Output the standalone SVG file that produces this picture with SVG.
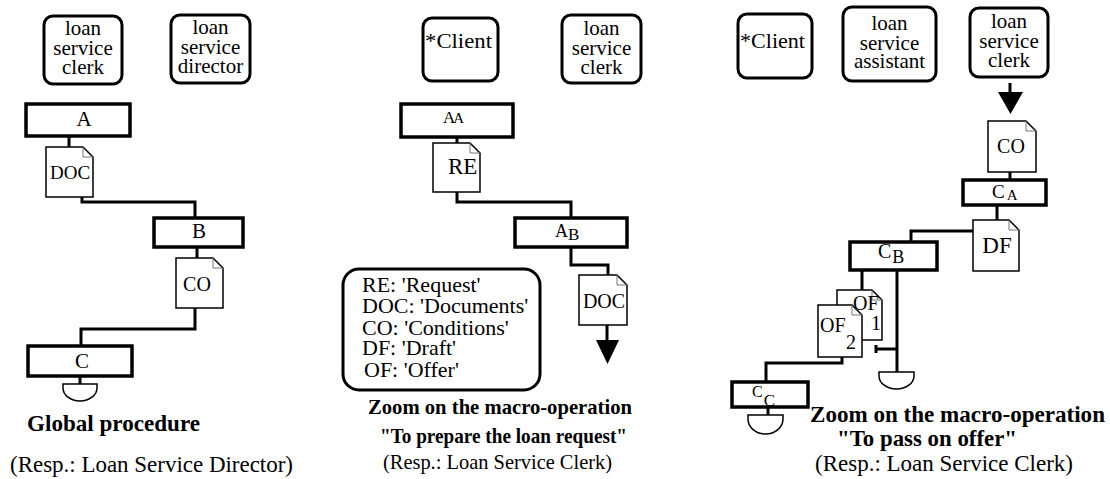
<svg xmlns="http://www.w3.org/2000/svg" width="1110" height="479" viewBox="0 0 1110 479">
  <style>
    text { font-family: 'Liberation Serif', 'Times New Roman', serif; fill: #000; }
    .actor { fill: #fff; stroke: #000; stroke-width: 3; }
    .proc { fill: #fff; stroke: #000; stroke-width: 3.5; }
    .doc { fill: #fff; stroke: #000; stroke-width: 1.5; }
    .fold { fill: none; stroke: #777; stroke-width: 1; }
    .end { fill: #fff; stroke: #000; stroke-width: 1.5; }
    .link { fill: none; stroke: #000; stroke-width: 3; }
    .tip { fill: #000; stroke: none; }
    .legend { fill: #fff; stroke: #000; stroke-width: 3; }
    .a { font-size: 21px; text-anchor: middle; }
    .cap { font-weight: bold; }
  </style>

  <!-- ===== Global procedure ===== -->
  <g id="p1-actor-clerk">
    <rect class="actor" x="44" y="16" width="78" height="68" rx="9"/>
    <text class="a" x="83" y="35">loan</text>
    <text class="a" x="83" y="55">service</text>
    <text class="a" x="83" y="74">clerk</text>
  </g>
  <g id="p1-actor-director">
    <rect class="actor" x="171" y="15" width="79" height="68" rx="9"/>
    <text class="a" x="210.5" y="34">loan</text>
    <text class="a" x="210.5" y="54">service</text>
    <text class="a" x="210.5" y="73">director</text>
  </g>
  <g id="p1-op-A">
    <rect class="proc" x="26" y="104" width="104" height="32"/>
    <text x="84" y="126" font-size="21" text-anchor="middle">A</text>
  </g>
  <g id="p1-doc-DOC">
    <path class="doc" d="M46 147 H83 L93 157 V197 H46 Z"/>
    <path class="fold" d="M83 147 V157 H93"/>
    <text x="70" y="179" font-size="19" text-anchor="middle">DOC</text>
  </g>
  <g id="p1-op-B">
    <rect class="proc" x="154" y="218" width="89" height="29"/>
    <text x="199" y="238" font-size="21" text-anchor="middle">B</text>
  </g>
  <g id="p1-doc-CO">
    <path class="doc" d="M176 258 H213 L223 268 V308 H176 Z"/>
    <path class="fold" d="M213 258 V268 H223"/>
    <text x="197" y="291" font-size="20" text-anchor="middle">CO</text>
  </g>
  <g id="p1-op-C">
    <rect class="proc" x="28" y="346" width="104" height="30"/>
    <text x="82" y="368" font-size="21" text-anchor="middle">C</text>
  </g>
  <g id="p1-end">
    <path class="end" d="M63 384 H97 V388 A17 13 0 0 1 63 388 Z"/>
  </g>
  <g id="p1-caption">
    <text class="cap" x="27" y="431" font-size="23" textLength="173" lengthAdjust="spacingAndGlyphs">Global procedure</text>
    <text x="10" y="472" font-size="23" textLength="283" lengthAdjust="spacingAndGlyphs">(Resp.: Loan Service Director)</text>
  </g>

  <!-- ===== "To prepare the loan request" ===== -->
  <g id="p2-actor-client">
    <rect class="actor" x="423" y="18" width="75" height="63" rx="9"/>
    <text x="425" y="48" font-size="22" textLength="67" lengthAdjust="spacingAndGlyphs">*Client</text>
  </g>
  <g id="p2-actor-clerk">
    <rect class="actor" x="562" y="15" width="79" height="68" rx="9"/>
    <text class="a" x="601.5" y="35">loan</text>
    <text class="a" x="601.5" y="55">service</text>
    <text class="a" x="601.5" y="74">clerk</text>
  </g>
  <g id="p2-op-AA">
    <rect class="proc" x="401" y="104" width="112" height="33"/>
    <text x="443" y="123" font-size="17">A<tspan font-size="15" dx="-2">A</tspan></text>
  </g>
  <g id="p2-doc-RE">
    <path class="doc" d="M433 143 H470 L480 153 V192 H433 Z"/>
    <path class="fold" d="M470 143 V153 H480"/>
    <text x="448" y="174" font-size="23">RE</text>
  </g>
  <g id="p2-op-AB">
    <rect class="proc" x="515" y="218" width="112" height="29"/>
    <text x="555" y="237" font-size="18">A<tspan font-size="17" dy="3">B</tspan></text>
  </g>
  <g id="p2-doc-DOC">
    <path class="doc" d="M579 275 H617 L627 285 V325 H579 Z"/>
    <path class="fold" d="M617 275 V285 H627"/>
    <text x="604" y="308" font-size="20" text-anchor="middle">DOC</text>
  </g>
  <g id="p2-legend">
    <rect class="legend" x="343" y="269" width="197" height="121" rx="16"/>
    <text x="362" y="292" font-size="22">RE: 'Request'</text>
    <text x="362" y="313" font-size="22">DOC: 'Documents'</text>
    <text x="362" y="335" font-size="22">CO: 'Conditions'</text>
    <text x="362" y="355" font-size="22">DF: 'Draft'</text>
    <text x="364" y="377" font-size="22">OF: 'Offer'</text>
  </g>
  <g id="p2-caption">
    <text class="cap" x="368" y="414" font-size="21" textLength="264" lengthAdjust="spacingAndGlyphs">Zoom on the macro-operation</text>
    <text class="cap" x="380" y="443" font-size="21" textLength="247" lengthAdjust="spacingAndGlyphs">"To prepare the loan request"</text>
    <text x="383" y="469" font-size="21" textLength="229" lengthAdjust="spacingAndGlyphs">(Resp.: Loan Service Clerk)</text>
  </g>

  <!-- ===== "To pass on offer" ===== -->
  <g id="p3-actor-client">
    <rect class="actor" x="738" y="14" width="74" height="64" rx="9"/>
    <text x="740" y="48" font-size="22" textLength="65" lengthAdjust="spacingAndGlyphs">*Client</text>
  </g>
  <g id="p3-actor-assistant">
    <rect class="actor" x="843" y="7" width="93" height="74" rx="9"/>
    <text class="a" x="889.5" y="30">loan</text>
    <text class="a" x="889.5" y="50">service</text>
    <text class="a" x="889.5" y="68" font-size="22">assistant</text>
  </g>
  <g id="p3-actor-clerk">
    <rect class="actor" x="970" y="8" width="78" height="69" rx="9"/>
    <text class="a" x="1009" y="28">loan</text>
    <text class="a" x="1009" y="48">service</text>
    <text class="a" x="1009" y="67">clerk</text>
  </g>
  <g id="p3-doc-CO">
    <path class="doc" d="M988 121 H1026 L1036 131 V172 H988 Z"/>
    <path class="fold" d="M1026 121 V131 H1036"/>
    <text x="1011" y="153" font-size="20" text-anchor="middle">CO</text>
  </g>
  <g id="p3-op-CA">
    <rect class="proc" x="963" y="180" width="83" height="25"/>
    <text x="992" y="198" font-size="19">C<tspan font-size="15" dx="2" dy="2">A</tspan></text>
  </g>
  <g id="p3-doc-DF">
    <path class="doc" d="M973 220 H1009 L1019 230 V271 H973 Z"/>
    <path class="fold" d="M1009 220 V230 H1019"/>
    <text x="997" y="253" font-size="23" text-anchor="middle">DF</text>
  </g>
  <g id="p3-op-CB">
    <rect class="proc" x="850" y="242" width="87" height="28"/>
    <text x="878" y="258" font-size="20">C<tspan font-size="18" dx="1" dy="5">B</tspan></text>
  </g>
  <g id="p3-doc-OF1">
    <path class="doc" d="M837 290 H872 L882 300 V340 H837 Z"/>
    <path class="fold" d="M872 290 V300 H882"/>
    <text x="853" y="310" font-size="20">OF</text>
    <text x="871" y="330" font-size="20">1</text>
  </g>
  <g id="p3-doc-OF2">
    <path class="doc" d="M818 305 H852 L862 315 V357 H818 Z"/>
    <path class="fold" d="M852 305 V315 H862"/>
    <text x="820" y="332" font-size="20">OF</text>
    <text x="846" y="349" font-size="20">2</text>
  </g>
  <g id="p3-end-CB">
    <path class="end" d="M879 372 H914 V376 A17.5 13 0 0 1 879 376 Z"/>
  </g>
  <g id="p3-op-CC">
    <rect class="proc" x="732" y="382" width="76" height="25"/>
    <text x="752" y="397" font-size="16">C<tspan font-size="17" dx="1" dy="9">C</tspan></text>
  </g>
  <g id="p3-end-CC">
    <path class="end" d="M748 415 H783 V419 A17.5 15 0 0 1 748 419 Z"/>
  </g>
  <g id="p3-caption">
    <text class="cap" x="810" y="422" font-size="23" textLength="295" lengthAdjust="spacingAndGlyphs">Zoom on the macro-operation</text>
    <text class="cap" x="837" y="446" font-size="23" textLength="180" lengthAdjust="spacingAndGlyphs">"To pass on offer"</text>
    <text x="815" y="471" font-size="23" textLength="258" lengthAdjust="spacingAndGlyphs">(Resp.: Loan Service Clerk)</text>
  </g>

  <!-- ===== Connectors ===== -->
  <g id="connectors">
    <path class="link" d="M69 136 V147"/>
    <path class="link" d="M82 197 V202 H195 V218"/>
    <path class="link" d="M197 247 V258"/>
    <path class="link" d="M195 308 V329 H81 V346"/>
    <path class="link" d="M80 376 V384"/>

    <path class="link" d="M457 137 V143"/>
    <path class="link" d="M457 192 V202 H571 V218"/>
    <path class="link" d="M571 247 V265 H608 V275"/>
    <path class="link" d="M607 325 V342"/>
    <polygon class="tip" points="596,340 619,340 607.5,364"/>

    <path class="link" d="M1010 83 V94"/>
    <polygon class="tip" points="998,92 1023,92 1010.5,114"/>
    <path class="link" d="M1010 172 V180"/>
    <path class="link" d="M997 205 V220"/>
    <path class="link" d="M973 231 H911 V242"/>
    <path class="link" d="M862 270 V290"/>
    <path class="link" d="M897 270 V372"/>
    <path class="link" d="M876 349 H897"/>
    <path class="link" d="M876 345 V353"/>
    <path class="link" d="M842 357 V363 H766 V382"/>
    <path class="link" d="M768 407 V415"/>
  </g>
</svg>
